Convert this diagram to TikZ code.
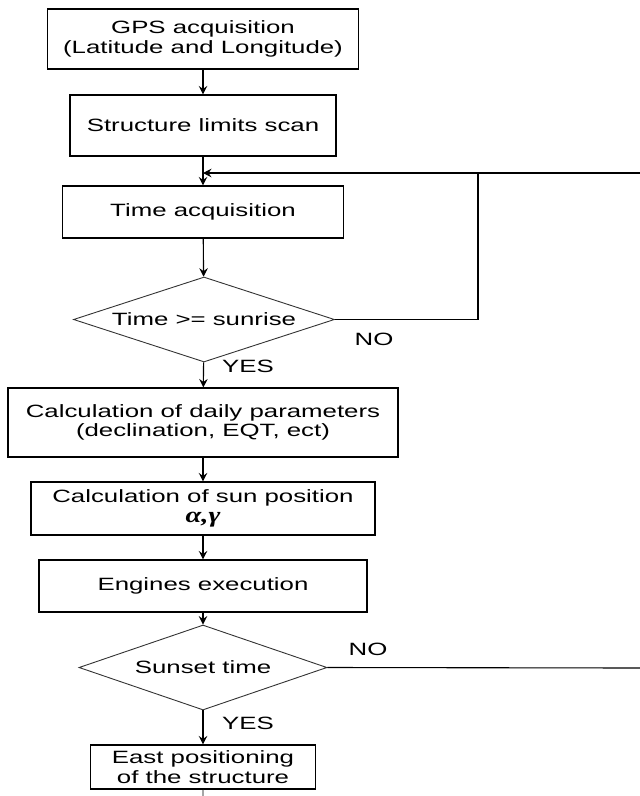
\documentclass[tikz,border=0pt]{standalone}
\usepackage{fontspec}
\setmainfont{Liberation Sans}[FakeStretch=1.45]
\newfontfamily\greekfont{Liberation Serif}[FakeStretch=1.3]
\usepackage{tikz}
\usetikzlibrary{shapes.geometric,arrows.meta}

\begin{document}
\begin{tikzpicture}[x=1pt, y=-1pt,
	every node/.style={font=\fontsize{17.8}{19.5}\selectfont},
	box/.style={draw=black, line width=1.1pt, rectangle, inner sep=0pt, align=center},
	decision/.style={draw=black!80, line width=0.9pt, diamond, aspect=3, inner sep=0pt},
	flow/.style={draw=black, line width=1.1pt, -{Stealth[length=8.5pt, width=8.5pt, inset=3pt]}},
	line/.style={draw=black, line width=1.1pt}]
	\useasboundingbox (0,0) rectangle (640,796);
	% steps of the tracker
	\node[box, minimum width=311pt, minimum height=60pt] (gps) at (203,39) {GPS acquisition\\(Latitude and Longitude)};
	\node[box, minimum width=266pt, minimum height=61pt] (scan) at (203,125.5) {Structure limits scan};
	\node[box, minimum width=281pt, minimum height=52pt] (time) at (203,212) {Time acquisition};
	\node[decision, minimum width=261pt, minimum height=85pt] (sunrise) at (204,319.5) {Time >= sunrise};
	\node[box, minimum width=390pt, minimum height=69pt] (daily) at (203,422.5) {Calculation of daily parameters\\(declination, EQT, ect)};
	\node[box, minimum width=344pt, minimum height=53pt] (sunpos) at (203,508.5) {Calculation of sun position\\{\greekfont\fontsize{22}{20}\selectfont\bfseries\itshape α,γ}};
	\node[box, minimum width=328pt, minimum height=52pt] (engines) at (203,586) {Engines execution};
	\node[decision, minimum width=248pt, minimum height=85pt] (sunset) at (203,667.5) {Sunset time};
	\node[box, minimum width=225pt, minimum height=44pt] (east) at (203,767) {East positioning\\of the structure};
	% labels
	\node (norise) at (374,339) {NO};
	\node (yesrise) at (248,366) {YES};
	\node (noset) at (368,649) {NO};
	\node (yesset) at (248,723) {YES};
	% loop points
	\coordinate (loop) at (478,173);
	\coordinate (join) at (203,173);
	\coordinate (fromset) at (640,173);
	\coordinate (toloop) at (640,668);
	\coordinate (tail) at (203,796);
	% connectors
	\draw[flow] (gps) -- (scan);
	\draw[flow] (scan) -- (time);
	\draw[flow] (time) -- (sunrise);
	\draw[flow] (sunrise) -- (daily);
	\draw[flow] (daily) -- (sunpos);
	\draw[flow] (sunpos) -- (engines);
	\draw[flow] (engines) -- (sunset);
	\draw[flow] (sunset) -- (east);
	\draw[line] (sunrise.east) -| (loop);
	\draw[flow] (fromset) -- (join);
	\draw[line] (sunset.east) -- (toloop);
	\draw[line, draw=black!35] (east) -- (tail);
\end{tikzpicture}
\end{document}
